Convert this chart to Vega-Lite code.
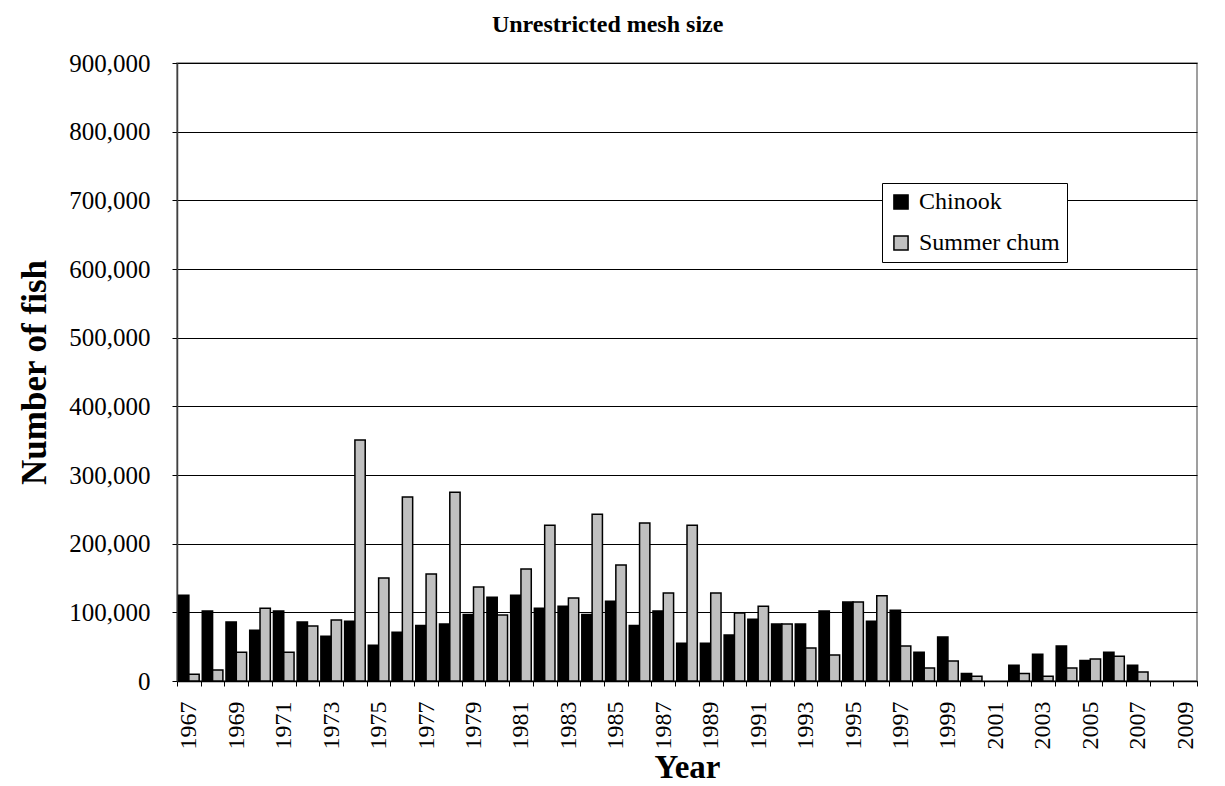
{
  "$schema": "https://vega.github.io/schema/vega-lite/v6.json",
  "width": 1020,
  "height": 618,
  "autosize": {"type": "none"},
  "padding": {"left": 177, "top": 63, "right": 28, "bottom": 105},
  "background": "white",
  "title": {
    "text": "Unrestricted mesh size",
    "font": "Liberation Serif",
    "fontSize": 24,
    "fontWeight": "bold",
    "color": "black",
    "anchor": "middle",
    "frame": "bounds",
    "offset": 14
  },
  "data": {
    "values": [
      {"year": 1967, "species": "Chinook", "fish": 125000}, {"year": 1967, "species": "Summer chum", "fish": 10000},
      {"year": 1968, "species": "Chinook", "fish": 102000}, {"year": 1968, "species": "Summer chum", "fish": 16000},
      {"year": 1969, "species": "Chinook", "fish": 86000}, {"year": 1969, "species": "Summer chum", "fish": 42000},
      {"year": 1970, "species": "Chinook", "fish": 74000}, {"year": 1970, "species": "Summer chum", "fish": 106000},
      {"year": 1971, "species": "Chinook", "fish": 102000}, {"year": 1971, "species": "Summer chum", "fish": 42000},
      {"year": 1972, "species": "Chinook", "fish": 86000}, {"year": 1972, "species": "Summer chum", "fish": 80000},
      {"year": 1973, "species": "Chinook", "fish": 65000}, {"year": 1973, "species": "Summer chum", "fish": 89000},
      {"year": 1974, "species": "Chinook", "fish": 87000}, {"year": 1974, "species": "Summer chum", "fish": 351000},
      {"year": 1975, "species": "Chinook", "fish": 52000}, {"year": 1975, "species": "Summer chum", "fish": 150000},
      {"year": 1976, "species": "Chinook", "fish": 71000}, {"year": 1976, "species": "Summer chum", "fish": 268000},
      {"year": 1977, "species": "Chinook", "fish": 81000}, {"year": 1977, "species": "Summer chum", "fish": 156000},
      {"year": 1978, "species": "Chinook", "fish": 83000}, {"year": 1978, "species": "Summer chum", "fish": 275000},
      {"year": 1979, "species": "Chinook", "fish": 97000}, {"year": 1979, "species": "Summer chum", "fish": 137000},
      {"year": 1980, "species": "Chinook", "fish": 122000}, {"year": 1980, "species": "Summer chum", "fish": 96000},
      {"year": 1981, "species": "Chinook", "fish": 125000}, {"year": 1981, "species": "Summer chum", "fish": 163000},
      {"year": 1982, "species": "Chinook", "fish": 106000}, {"year": 1982, "species": "Summer chum", "fish": 227000},
      {"year": 1983, "species": "Chinook", "fish": 109000}, {"year": 1983, "species": "Summer chum", "fish": 121000},
      {"year": 1984, "species": "Chinook", "fish": 97000}, {"year": 1984, "species": "Summer chum", "fish": 243000},
      {"year": 1985, "species": "Chinook", "fish": 116000}, {"year": 1985, "species": "Summer chum", "fish": 169000},
      {"year": 1986, "species": "Chinook", "fish": 81000}, {"year": 1986, "species": "Summer chum", "fish": 230000},
      {"year": 1987, "species": "Chinook", "fish": 102000}, {"year": 1987, "species": "Summer chum", "fish": 128000},
      {"year": 1988, "species": "Chinook", "fish": 55000}, {"year": 1988, "species": "Summer chum", "fish": 227000},
      {"year": 1989, "species": "Chinook", "fish": 55000}, {"year": 1989, "species": "Summer chum", "fish": 128000},
      {"year": 1990, "species": "Chinook", "fish": 67000}, {"year": 1990, "species": "Summer chum", "fish": 99000},
      {"year": 1991, "species": "Chinook", "fish": 90000}, {"year": 1991, "species": "Summer chum", "fish": 109000},
      {"year": 1992, "species": "Chinook", "fish": 83000}, {"year": 1992, "species": "Summer chum", "fish": 83000},
      {"year": 1993, "species": "Chinook", "fish": 83000}, {"year": 1993, "species": "Summer chum", "fish": 48000},
      {"year": 1994, "species": "Chinook", "fish": 102000}, {"year": 1994, "species": "Summer chum", "fish": 38000},
      {"year": 1995, "species": "Chinook", "fish": 115000}, {"year": 1995, "species": "Summer chum", "fish": 115000},
      {"year": 1996, "species": "Chinook", "fish": 87000}, {"year": 1996, "species": "Summer chum", "fish": 124000},
      {"year": 1997, "species": "Chinook", "fish": 103000}, {"year": 1997, "species": "Summer chum", "fish": 51000},
      {"year": 1998, "species": "Chinook", "fish": 42000}, {"year": 1998, "species": "Summer chum", "fish": 19000},
      {"year": 1999, "species": "Chinook", "fish": 64000}, {"year": 1999, "species": "Summer chum", "fish": 29000},
      {"year": 2000, "species": "Chinook", "fish": 11000}, {"year": 2000, "species": "Summer chum", "fish": 7000},
      {"year": 2002, "species": "Chinook", "fish": 23000}, {"year": 2002, "species": "Summer chum", "fish": 11000},
      {"year": 2003, "species": "Chinook", "fish": 39000}, {"year": 2003, "species": "Summer chum", "fish": 7000},
      {"year": 2004, "species": "Chinook", "fish": 51000}, {"year": 2004, "species": "Summer chum", "fish": 19000},
      {"year": 2005, "species": "Chinook", "fish": 30000}, {"year": 2005, "species": "Summer chum", "fish": 32000},
      {"year": 2006, "species": "Chinook", "fish": 42000}, {"year": 2006, "species": "Summer chum", "fish": 36000},
      {"year": 2007, "species": "Chinook", "fish": 23000}, {"year": 2007, "species": "Summer chum", "fish": 13000}
    ]
  },
  "mark": {"type": "bar", "stroke": "black", "strokeWidth": 1.5},
  "encoding": {
    "x": {
      "field": "year",
      "type": "ordinal",
      "scale": {
        "domain": [1967, 1968, 1969, 1970, 1971, 1972, 1973, 1974, 1975, 1976, 1977, 1978, 1979, 1980, 1981, 1982, 1983, 1984, 1985, 1986, 1987, 1988, 1989, 1990, 1991, 1992, 1993, 1994, 1995, 1996, 1997, 1998, 1999, 2000, 2001, 2002, 2003, 2004, 2005, 2006, 2007, 2008, 2009],
        "paddingInner": 0,
        "paddingOuter": 0
      },
      "axis": {
        "title": "Year",
        "titleFont": "Liberation Serif",
        "titleFontSize": 33,
        "titleFontWeight": "bold",
        "titleColor": "black",
        "titlePadding": 2,
        "labelFont": "Liberation Serif",
        "labelFontSize": 24,
        "labelColor": "black",
        "labelAngle": 270,
        "labelPadding": 15,
        "labelOverlap": false,
        "labelExpr": "(datum.value - 1967) % 2 == 0 ? datum.label : ''",
        "tickBand": "extent",
        "tickSize": 5,
        "tickColor": "black",
        "domainColor": "black",
        "domainWidth": 1.5,
        "grid": false
      }
    },
    "xOffset": {
      "field": "species",
      "type": "nominal",
      "scale": {"domain": ["Chinook", "Summer chum"], "paddingInner": 0, "paddingOuter": 0.15}
    },
    "y": {
      "field": "fish",
      "type": "quantitative",
      "scale": {"domain": [0, 900000], "nice": false},
      "axis": {
        "title": "Number of fish",
        "titleFont": "Liberation Serif",
        "titleFontSize": 35,
        "titleFontWeight": "bold",
        "titleColor": "black",
        "titlePadding": 16,
        "values": [0, 100000, 200000, 300000, 400000, 500000, 600000, 700000, 800000, 900000],
        "format": ",d",
        "labelFont": "Liberation Serif",
        "labelFontSize": 25,
        "labelColor": "black",
        "labelPadding": 22,
        "tickSize": 5,
        "tickColor": "black",
        "domainColor": "#404040",
        "domainWidth": 1.5,
        "grid": true,
        "gridColor": "black",
        "gridWidth": 1
      }
    },
    "color": {
      "field": "species",
      "type": "nominal",
      "scale": {"domain": ["Chinook", "Summer chum"], "range": ["#000000", "#C0C0C0"]},
      "legend": {
        "title": null,
        "orient": "none",
        "legendX": 705,
        "legendY": 120,
        "fillColor": "white",
        "strokeColor": "black",
        "padding": 7,
        "symbolType": "square",
        "symbolSize": 200,
        "symbolStrokeColor": "black",
        "symbolStrokeWidth": 1.5,
        "symbolOpacity": 1,
        "labelFont": "Liberation Serif",
        "labelFontSize": 24,
        "labelColor": "black",
        "labelOffset": 6,
        "rowPadding": 17
      }
    }
  },
  "config": {
    "font": "Liberation Serif",
    "title": {"font": "Liberation Serif"},
    "legend": {"labelFont": "Liberation Serif"},
    "axis": {"labelFont": "Liberation Serif", "titleFont": "Liberation Serif"},
    "view": {"stroke": "#808080", "strokeWidth": 1.5, "fill": "white"}
  }
}
